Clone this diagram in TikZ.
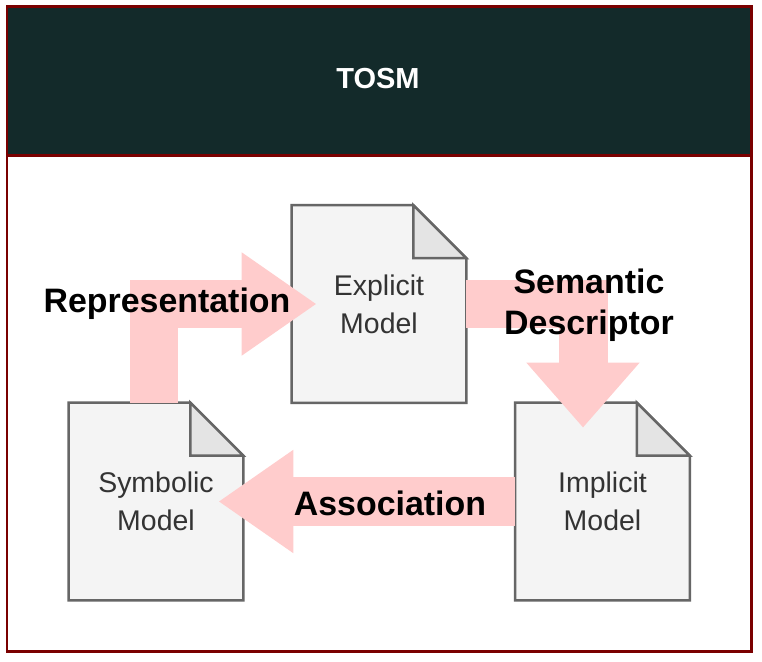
\documentclass[tikz,border=0pt]{standalone}
\usepackage{fontspec}
\setmainfont{Liberation Sans}
\usepackage{xcolor}
\usetikzlibrary{arrows.meta,backgrounds}

\definecolor{framered}{HTML}{7A0000}
\definecolor{headteal}{HTML}{132A2A}
\definecolor{docfill}{HTML}{F4F4F4}
\definecolor{foldfill}{HTML}{E4E4E4}
\definecolor{docline}{HTML}{666666}
\definecolor{arrowpink}{HTML}{FFCCCC}
\definecolor{doctext}{HTML}{333333}

\begin{document}
\begin{tikzpicture}[x=0.02cm, y=-0.02cm,
    doc/.style={minimum width=3.48cm, minimum height=3.94cm, inner sep=0pt, align=center,
      text=doctext, font=\fontsize{16.2}{21.6}\selectfont},
    blockarrow/.style={draw=arrowpink, line width=0.98cm, line join=miter,
      -{Triangle[length=1.5cm, width=1.96cm]}},
    arrowlabel/.style={align=center, font=\fontsize{19.3}{23.3}\selectfont\bfseries}]
  \useasboundingbox (0,0) rectangle (762,662);
  % model documents
  \node[doc] (exp) at (379,304) {Explicit\\Model};
  \node[doc] (sym) at (156,501.5) {Symbolic\\Model};
  \node[doc] (imp) at (602.5,501.5) {Implicit\\Model};
  \begin{scope}[on background layer]
    % frame and title bar
    \fill[white] (0,0) rectangle (762,662);
    \fill[headteal] (7,7) rectangle (751.5,155.5);
    \draw[framered, line width=0.06cm] (7,7) rectangle (751.5,651.5);
    \draw[framered, line width=0.06cm] (7,155.5) -- (751.5,155.5);
    \foreach \n in {exp,sym,imp} {
      \fill[docfill, draw=docline, line width=0.05cm]
        (\n.south west) -- (\n.north west) -- ([xshift=-1.06cm]\n.north east)
        -- ([yshift=-1.06cm]\n.north east) -- (\n.south east) -- cycle;
      \fill[foldfill, draw=docline, line width=0.05cm]
        ([xshift=-1.06cm]\n.north east) -- ([xshift=-1.06cm, yshift=-1.06cm]\n.north east)
        -- ([yshift=-1.06cm]\n.north east) -- cycle;
    }
  \end{scope}
  \node[text=white, font=\fontsize{16.5}{20}\selectfont\bfseries] (title) at (378,79) {TOSM};

  % block arrows
  \draw[blockarrow] ([xshift=-0.04cm]sym.north) |- ([xshift=0.5cm]exp.west);
  \draw[blockarrow, -{Triangle[length=1.3cm, width=2.18cm]}]
    (exp.east) -| ([xshift=-0.39cm, yshift=-0.5cm]imp.north);
  \draw[blockarrow] (imp.west) -- ([xshift=-0.5cm]sym.east);

  % arrow labels
  \node[arrowlabel] (rep) at (167,304) {Representation};
  \node[arrowlabel] (sem) at (589,305) {Semantic\\Descriptor};
  \node[arrowlabel] (ass) at (390,503) {Association};
\end{tikzpicture}
\end{document}
